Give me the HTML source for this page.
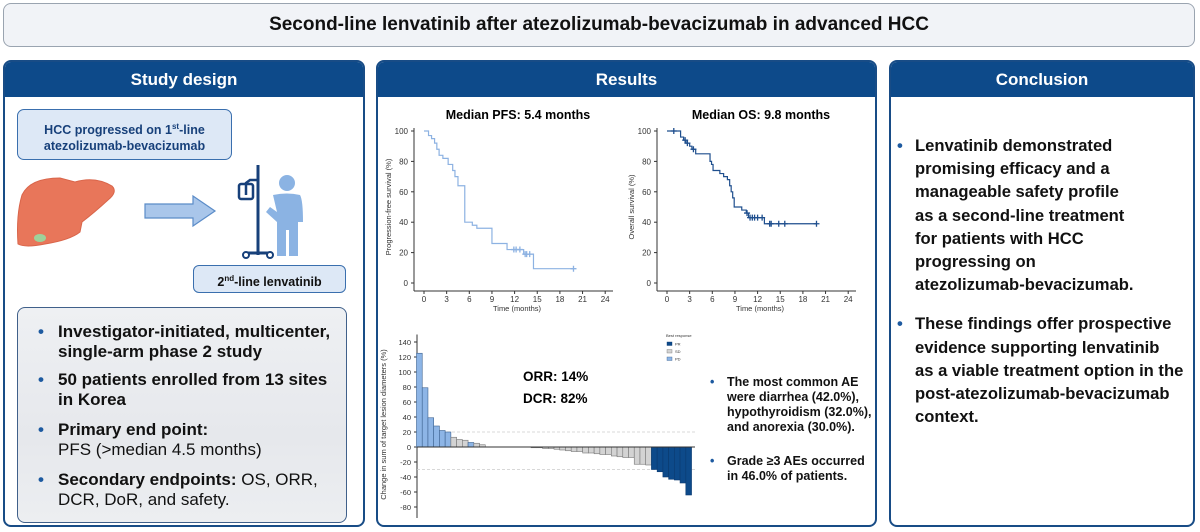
<!DOCTYPE html>
<html><head><meta charset="utf-8">
<style>
*{margin:0;padding:0;box-sizing:border-box}
body{width:1200px;height:532px;background:#fff;font-family:"Liberation Sans",Arial,sans-serif;position:relative;overflow:hidden;color:#111}
.abs{position:absolute}
.panel{position:absolute;border:2px solid #184c86;border-radius:8px;background:#fff;overflow:hidden}
.hdr{position:absolute;left:0;right:0;top:0;height:35px;background:#0d4a8a;color:#fff;font-weight:bold;font-size:17px;text-align:center;line-height:35px}
.b{font-weight:bold}
ul{list-style:none}
.dot{position:absolute;color:#1d5aa0;font-weight:bold}
</style></head><body>
<div class="abs" style="left:3px;top:3px;width:1192px;height:44px;border:1.5px solid #9aa4b0;border-radius:8px;background:#f1f3f7;text-align:center;line-height:42px;font-weight:bold;font-size:19px">Second-line lenvatinib after atezolizumab-bevacizumab in advanced HCC</div>

<div class="panel" style="left:3px;top:60px;width:362px;height:467px">
 <div class="hdr">Study design</div>
</div>
<div class="panel" style="left:376px;top:60px;width:501px;height:467px">
 <div class="hdr">Results</div>
</div>
<div class="panel" style="left:889px;top:60px;width:306px;height:467px">
 <div class="hdr">Conclusion</div>
</div>

<div class="abs" style="left:17px;top:109px;width:215px;height:51px;border:1.5px solid #3a6fae;border-radius:7px;background:#dde8f6;color:#17407a;font-weight:bold;font-size:12.5px;text-align:center;padding-top:9px;line-height:16px">HCC progressed on 1<sup style="font-size:8px">st</sup>-line<br>atezolizumab-bevacizumab</div>
<div class="abs" style="left:193px;top:265px;width:153px;height:28px;border:1.5px solid #3a6fae;border-radius:6px;background:#dde8f6;color:#111;font-weight:bold;font-size:12.5px;text-align:center;line-height:26px">2<sup style="font-size:8px">nd</sup>-line lenvatinib</div>

<svg class="abs" style="left:0;top:0" width="370" height="300">
 <path d="M22,195 Q30,178 60,178 L75,182 Q95,176 112,186 Q118,192 108,200 Q95,212 82,222 L80,232 Q70,240 45,244 Q25,248 18,244 Q16,215 22,195Z" fill="#e8765a" stroke="#d9654a" stroke-width="1"/>
 <ellipse cx="40" cy="238" rx="6" ry="4" fill="#9ed29a"/>
 <path d="M145,204 L193,204 L193,196 L215,211 L193,226 L193,218 L145,218Z" fill="#a9c6ea" stroke="#5b8cc8" stroke-width="1.2"/>
 <g stroke="#17407a" fill="none" stroke-width="3">
  <line x1="258" y1="165" x2="258" y2="255"/>
  <path d="M246,195 L246,183 L250,180 L258,180" stroke-width="2.5"/>
  <rect x="239" y="184" width="14" height="15" rx="2" stroke-width="2.5"/>
  <line x1="248" y1="253" x2="268" y2="253"/>
  <circle cx="246" cy="255" r="3" stroke-width="2"/><circle cx="270" cy="255" r="3" stroke-width="2"/>
 </g>
 <g fill="#8bb3e3">
  <circle cx="287" cy="183" r="8"/>
  <path d="M273,195 Q287,192 300,195 Q303,200 303,222 L298,222 L298,256 L289,256 L289,230 L286,230 L286,256 L277,256 L277,222 L266,212 L270,207 L277,212Z"/>
 </g>
</svg>

<div class="abs" style="left:17px;top:307px;width:330px;height:216px;border:1.5px solid #40608a;border-radius:8px;background:linear-gradient(#eef0f3,#e6e8ec 60%,#eceef1);font-size:17px;line-height:20px">
 <div class="abs" style="left:20px;top:14px;width:305px">
  <div style="position:relative;padding-left:20px"><span class="dot" style="left:0">•</span><b>Investigator-initiated, multicenter, single-arm phase 2 study</b></div>
  <div style="position:relative;padding-left:20px;margin-top:8px"><span class="dot" style="left:0">•</span><b>50 patients enrolled from 13 sites in Korea</b></div>
  <div style="position:relative;padding-left:20px;margin-top:10px"><span class="dot" style="left:0">•</span><b>Primary end point:</b><br>PFS (&gt;median 4.5 months)</div>
  <div style="position:relative;padding-left:20px;margin-top:10px"><span class="dot" style="left:0">•</span><b>Secondary endpoints:</b> OS, ORR, DCR, DoR, and safety.</div>
 </div>
</div>

<div class="abs" style="left:897px;top:134px;width:298px;font-size:16.6px;line-height:23.2px;font-weight:bold;white-space:nowrap">
 <div style="position:relative;padding-left:18px"><span class="dot" style="left:0">•</span>Lenvatinib demonstrated<br>promising efficacy and a<br>manageable safety profile<br>as a second-line treatment<br>for patients with HCC<br>progressing on<br>atezolizumab-bevacizumab.</div>
 <div style="position:relative;padding-left:18px;margin-top:16px"><span class="dot" style="left:0">•</span>These findings offer prospective<br>evidence supporting lenvatinib<br>as a viable treatment option in the<br>post-atezolizumab-bevacizumab<br>context.</div>
</div>

<div class="abs" style="left:710px;top:375px;font-size:12.5px;line-height:15px;font-weight:bold;white-space:nowrap">
 <div style="position:relative;padding-left:17px"><span class="dot" style="left:0">•</span>The most common AE<br>were diarrhea (42.0%),<br>hypothyroidism (32.0%),<br>and anorexia (30.0%).</div>
 <div style="position:relative;padding-left:17px;margin-top:19px"><span class="dot" style="left:0">•</span>Grade ≥3 AEs occurred<br>in 46.0% of patients.</div>
</div>

<svg id="charts" class="abs" style="left:0;top:0" width="1200" height="532"></svg>

<script>
// PFS step data (time, survival after event)
const pfsTimes=[0,0.6,1.0,1.4,1.7,2.0,2.5,3.2,3.8,4.1,4.5,5.4,6.4,7.0,9.0,11.0,13.2,14.5,19.8];
const pfsSurv=[100,97,95,92,88,84,82,78,74,70,64,40,38,36,26,22,19,9.4,9.4];
const pfsCensT=[11.9,12.2,12.7,13.4,13.6,14.0,19.8];
const pfsCensS=[22,22,22,19,19,19,9.4];
// OS step data
const osTimes=[0,1.8,2.2,2.5,3.0,3.3,3.8,5.7,5.9,6.1,7.0,7.5,8.0,8.3,8.5,8.7,8.9,9.9,10.5,10.8,12.9,19.8];
const osSurv=[100,96,94,92,90,88,85,80,78,74,72,70,68,64,60,56,50,48,46,43,39,39];
const osCensT=[0.9,2.4,2.7,3.5,10.6,11.0,11.3,11.6,12.0,12.6,13.6,13.8,14.8,15.6,19.8];
const osCensS=[100,94,92,88,46,43,43,43,43,43,39,39,39,39,39];
const timeTicks=[0,3,6,9,12,15,18,21,24];
const survTicks=[0,20,40,60,80,100];
// Waterfall
const wfValues=[125,79,39,28,22,20,13,10,9,6,5,3,0,0,0,0,0,0,0,0,-1,-1,-2,-2,-3,-4,-5,-6,-6,-8,-8,-9,-10,-10,-12,-13,-14,-14,-23,-23,-24,-30,-33,-40,-43,-44,-48,-64];
const wfResp=["PD","PD","PD","PD","PD","PD","SD","SD","SD","PD","SD","SD","SD","SD","SD","SD","SD","SD","SD","SD","SD","SD","SD","SD","SD","SD","SD","SD","SD","SD","SD","SD","SD","SD","SD","SD","SD","SD","SD","SD","SD","PR","PR","PR","PR","PR","PR","PR"];
const wfTicks=[140,120,100,80,60,40,20,0,-20,-40,-60,-80];
const legendLabels=["PR","SD","PD"];

const NS="http://www.w3.org/2000/svg";
const svg=document.getElementById('charts');
function el(tag,attrs,parent){const e=document.createElementNS(NS,tag);for(const k in attrs)e.setAttribute(k,attrs[k]);(parent||svg).appendChild(e);return e;}
function txt(x,y,s,attrs,parent){const t=el('text',Object.assign({x:x,y:y,'font-family':'Liberation Sans, Arial, sans-serif'},attrs),parent);t.textContent=s;return t;}

function km(x0,name,title,ylab,times,surv,cT,cS,color){
  const g=el('g',{});
  
  
  const X=t=>x0+t*7.55, Y=s=>283-s*1.52;
  txt(x0+94,119,title,{'font-size':12.5,'font-weight':'bold','text-anchor':'middle'},g);
  el('line',{x1:x0-10,y1:128,x2:x0-10,y2:291,stroke:'#333','stroke-width':1},g);
  el('line',{x1:x0-10,y1:291,x2:x0+189,y2:291,stroke:'#333','stroke-width':1},g);
  survTicks.forEach(v=>{el('line',{x1:x0-13,y1:Y(v),x2:x0-10,y2:Y(v),stroke:'#333'},g);txt(x0-16,Y(v)+3,v,{'font-size':8,'text-anchor':'end',fill:'#333'},g);});
  timeTicks.forEach(v=>{el('line',{x1:X(v),y1:291,x2:X(v),y2:294,stroke:'#333'},g);txt(X(v),302,v,{'font-size':8,'text-anchor':'middle',fill:'#333'},g);});
  txt(x0+93,311,'Time (months)',{'font-size':7.5,'text-anchor':'middle',fill:'#333'},g);
  txt(0,0,ylab,{'font-size':7.5,'text-anchor':'middle',fill:'#333',transform:`translate(${x0-33},${Y(50)}) rotate(-90)`},g);
  let d=`M${X(times[0])},${Y(surv[0])}`;
  for(let i=1;i<times.length;i++){d+=` H${X(times[i])} V${Y(surv[i])}`;}
  const p=el('path',{d:d,fill:'none',stroke:color,'stroke-width':1.2},g);
  
  
  cT.forEach((t,i)=>{el('path',{d:`M${X(t)-3},${Y(cS[i])} h6 M${X(t)},${Y(cS[i])-3} v6`,stroke:color,'stroke-width':1.3},g);});
}
km(424,'pfs-chart','Median PFS: 5.4 months','Progression-free survival (%)',pfsTimes,pfsSurv,pfsCensT,pfsCensS,'#8db2e2');
km(667,'os-chart','Median OS: 9.8 months','Overall survival (%)',osTimes,osSurv,osCensT,osCensS,'#1f4f8e');

// waterfall
const wg=el('g',{});


const WY=v=>447-v*0.75, bw=5.73, bx0=416.5;
el('line',{x1:417,y1:WY(150),x2:417,y2:518,stroke:'#333'},wg);
wfTicks.forEach(v=>{el('line',{x1:414,y1:WY(v),x2:417,y2:WY(v),stroke:'#333'},wg);txt(411,WY(v)+3,v,{'font-size':7.5,'text-anchor':'end',fill:'#333'},wg);});
txt(0,0,'Change in sum of target lesion diameters (%)',{'font-size':7.5,'text-anchor':'middle',fill:'#333',transform:`translate(386,${WY(30)}) rotate(-90)`},wg);
[20,-30].forEach(v=>el('line',{x1:417,y1:WY(v),x2:695,y2:WY(v),stroke:'#ccc','stroke-dasharray':'3,2','stroke-width':0.8},wg));
const fillC={PD:'#8db5e6',SD:'#d3d3d3',PR:'#0d4a8a'}, strokeC={PD:'#3d6290',SD:'#777',PR:'#0a3a70'};
wfValues.forEach((v,i)=>{
  if(v===0)return;
  const r=el('rect',{x:bx0+i*bw,y:Math.min(WY(v),WY(0)),width:bw,height:Math.abs(v)*0.75,fill:fillC[wfResp[i]],stroke:strokeC[wfResp[i]],'stroke-width':0.6},wg);
  
  
});
el('line',{x1:417,y1:447,x2:695,y2:447,stroke:'#333','stroke-width':1},wg);
txt(523,381,'ORR: 14%',{'font-size':13.5,'font-weight':'bold'},wg);
txt(523,403,'DCR: 82%',{'font-size':13.5,'font-weight':'bold'},wg);
const lg=el('g',{},wg);


txt(666,337,'Best response',{'font-size':4,fill:'#333'},lg);
legendLabels.forEach((l,i)=>{el('rect',{x:667,y:342+i*7.5,width:5,height:3.5,fill:fillC[l],stroke:strokeC[l],'stroke-width':0.4},lg);txt(675,345.5+i*7.5,l,{'font-size':4,fill:'#333'},lg);});
</script>
</body></html>
